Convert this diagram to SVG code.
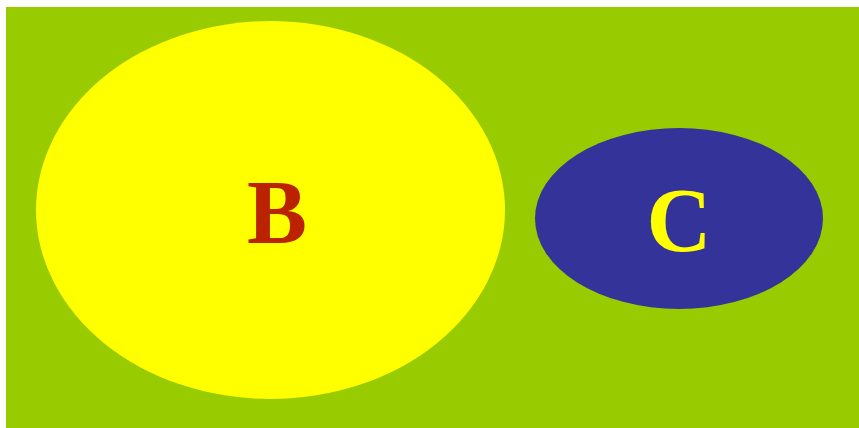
<svg xmlns="http://www.w3.org/2000/svg" width="859" height="428" viewBox="0 0 859 428">
<style>
.lbl{font-family:"Liberation Serif","Times New Roman",serif;font-weight:bold;font-size:90px;text-anchor:middle}
</style>
<rect x="6" y="7" width="853" height="421" fill="#99cc00"/>
<g id="node-B">
<ellipse cx="270.5" cy="210" rx="234.5" ry="189" fill="#ffff00"/>
<text class="lbl" x="277" y="243" fill="#bb2200">B</text>
</g>
<g id="node-C">
<ellipse cx="679" cy="218.5" rx="144" ry="90.5" fill="#333399"/>
<text class="lbl" x="679" y="251" fill="#ffff00">C</text>
</g>
<g id="connectors"/>
</svg>
